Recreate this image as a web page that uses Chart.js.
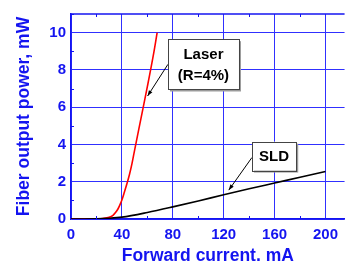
<!DOCTYPE html>
<html>
<head>
<meta charset="utf-8">
<script src="https://cdn.jsdelivr.net/npm/chart.js@4/dist/chart.umd.min.js"></script>
<style>
	html, body { margin: 0; padding: 0; background: #fff; }
	#wrap { width: 345px; height: 261px; }
</style>
</head>
<body>
<div id="wrap"><canvas id="line-chartcanvas"></canvas></div>
<script>
// forward current, mA
var laserCurrent = [0, 10, 20, 25, 30, 33, 35, 37, 39, 40, 42, 44, 46, 48, 50, 55, 60, 65, 67.7];
// fiber output power, mW
var laserPower = [0, 0, 0.01, 0.03, 0.09, 0.2, 0.35, 0.55, 0.85, 1.02, 1.45, 1.9, 2.4, 3.0, 3.7, 5.4, 7.1, 8.9, 10];

var sldCurrent = [0, 20, 30, 40, 60, 80, 100, 120, 140, 160, 180, 200];
var sldPower = [0, 0.01, 0.04, 0.1, 0.35, 0.65, 0.97, 1.3, 1.62, 1.93, 2.24, 2.55];

var xTicks = [0, 40, 80, 120, 160, 200];
var yTicks = [0, 2, 4, 6, 8, 10];

var blue = "#1414f0";
var gridBlue = "#3030ff";
var font = "'Liberation Sans', Arial, sans-serif";

function toPoints(xs, ys) {
	var pts = [];
	for (var i = 0; i < xs.length; i++) {
		pts.push({ x : xs[i], y : ys[i] });
	}
	return pts;
}

// callout boxes, placed in data units
var notes = [
	{ lines : ["Laser", "(R=4%)"], x0 : 76.2, x1 : 132, y0 : 9.65, y1 : 6.95, from : [76.2, 8.3], to : [60.2, 6.6] },
	{ lines : ["SLD"], x0 : 142.2, x1 : 177, y0 : 4.15, y1 : 2.6, from : [142.2, 3.3], to : [124, 1.55] }
];

var extras = {
	id : "extras",
	afterDatasetsDraw : function(chart) {
		var ctx = chart.ctx;
		var xs = chart.scales.x, ys = chart.scales.y;
		var a = chart.chartArea;
		ctx.save();
		// top frame line
		ctx.strokeStyle = blue;
		ctx.lineWidth = 1.5;
		ctx.beginPath();
		ctx.moveTo(a.left, a.top); ctx.lineTo(a.right, a.top);
		ctx.stroke();
		// minor ticks, inside
		ctx.lineWidth = 1;
		ctx.beginPath();
		for (var v = 20; v <= 215; v += 40) {
			var px = Math.round(xs.getPixelForValue(v)) + 0.5;
			ctx.moveTo(px, a.bottom); ctx.lineTo(px, a.bottom - 3);
			ctx.moveTo(px, a.top); ctx.lineTo(px, a.top + 3);
		}
		for (var w = 1; w <= 11; w += 2) {
			var py = Math.round(ys.getPixelForValue(w)) + 0.5;
			ctx.moveTo(a.left, py); ctx.lineTo(a.left + 3, py);
		}
		ctx.stroke();

		// callouts
		notes.forEach(function(n) {
			var l = xs.getPixelForValue(n.x0), r = xs.getPixelForValue(n.x1);
			var t = ys.getPixelForValue(n.y0), b = ys.getPixelForValue(n.y1);
			var fx = xs.getPixelForValue(n.from[0]), fy = ys.getPixelForValue(n.from[1]);
			var tx = xs.getPixelForValue(n.to[0]), ty = ys.getPixelForValue(n.to[1]);
			// arrow
			ctx.strokeStyle = "#000";
			ctx.fillStyle = "#000";
			ctx.lineWidth = 1;
			ctx.beginPath();
			ctx.moveTo(fx, fy); ctx.lineTo(tx, ty);
			ctx.stroke();
			var ang = Math.atan2(ty - fy, tx - fx);
			ctx.beginPath();
			ctx.moveTo(tx, ty);
			ctx.lineTo(tx - 6 * Math.cos(ang - 0.35), ty - 6 * Math.sin(ang - 0.35));
			ctx.lineTo(tx - 6 * Math.cos(ang + 0.35), ty - 6 * Math.sin(ang + 0.35));
			ctx.closePath();
			ctx.fill();
			// shadow + box
			ctx.fillStyle = "#9a9a9a";
			ctx.fillRect(l + 2, t + 2, r - l, b - t);
			ctx.fillStyle = "#fff";
			ctx.fillRect(l, t, r - l, b - t);
			ctx.strokeStyle = "#444";
			ctx.strokeRect(Math.round(l) + 0.5, Math.round(t) + 0.5, Math.round(r - l), Math.round(b - t));
			ctx.fillStyle = "#000";
			ctx.font = "bold 15px " + font;
			ctx.textAlign = "center";
			ctx.textBaseline = "middle";
			var cy = (t + b) / 2 - (n.lines.length - 1) * 10.5;
			n.lines.forEach(function(s, i) {
				ctx.fillText(s, (l + r) / 2, cy + i * 21 + 1);
			});
		});
		ctx.restore();
	}
};

var ctx = document.getElementById("line-chartcanvas");

var data = {
	datasets : [
		{
			label : "SLD",
			data : toPoints(sldCurrent, sldPower),
			borderColor : "#000",
			borderWidth : 1.6,
			fill : false,
			pointRadius : 0,
			cubicInterpolationMode : "monotone"
		},
		{
			label : "Laser (R=4%)",
			data : toPoints(laserCurrent, laserPower),
			borderColor : "#ff0000",
			borderWidth : 1.6,
			fill : false,
			pointRadius : 0,
			cubicInterpolationMode : "monotone"
		}
	]
};

var options = {
	responsive : true,
	maintainAspectRatio : false,
	animation : false,
	layout : { padding : { top : 12, right : 0, left : 0, bottom : 0 } },
	plugins : {
		legend : { display : false },
		tooltip : { enabled : false }
	},
	scales : {
		x : {
			type : "linear",
			min : 0,
			max : 215,
			afterBuildTicks : function(scale) {
				scale.ticks = xTicks.map(function(v) { return { value : v }; });
			},
			afterFit : function(scale) { scale.height = 42; },
			grid : { color : gridBlue, lineWidth : 1, drawTicks : false },
			border : { color : blue, width : 1.5 },
			ticks : { color : blue, padding : 7, maxRotation : 0, font : { family : font, size : 15, weight : "bold" } },
			title : {
				display : true,
				text : "Forward current, mA",
				color : blue,
				padding : { top : 0, bottom : -6 },
				font : { family : font, size : 17.5, weight : "bold" }
			}
		},
		y : {
			type : "linear",
			min : 0,
			max : 11,
			afterBuildTicks : function(scale) {
				scale.ticks = yTicks.map(function(v) { return { value : v }; });
			},
			afterFit : function(scale) { scale.width = 71; },
			grid : { color : gridBlue, lineWidth : 1, drawTicks : false },
			border : { color : blue, width : 1.5 },
			ticks : { color : blue, padding : 5, font : { family : font, size : 15, weight : "bold" } },
			title : {
				display : true,
				text : "Fiber output power, mW",
				color : blue,
				padding : { top : 14, bottom : 0 },
				font : { family : font, size : 17.5, weight : "bold" }
			}
		}
	}
};

var chart = new Chart(ctx, {
	type : "line",
	data : data,
	options : options,
	plugins : [extras]
});
</script>
</body>
</html>
